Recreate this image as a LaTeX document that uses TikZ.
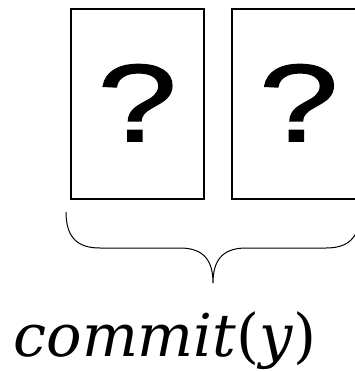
\documentclass[tikz,border=0pt]{standalone}
\usepackage{fontspec}
\setmainfont{DejaVu Serif}
\newfontfamily\qfont[FakeBold=1.2]{Liberation Sans}
\newcommand{\widequery}{\raisebox{2pt}{\scalebox{1.3}[1]{?}}}
\begin{document}
\begin{tikzpicture}[x=1pt,y=-1pt,
  card/.style={draw=black, line width=2pt, minimum width=133.5pt, minimum height=190.5pt,
    inner sep=0pt, font=\qfont\fontsize{110}{110}\selectfont},
  bracepath/.style={draw=black, line width=1pt},
  label/.style={font=\fontsize{59}{59}\selectfont\itshape, inner sep=0pt, anchor=base}]
  \useasboundingbox (0,0) rectangle (355,372);
  \clip (0,0) rectangle (355,372);
  % two hidden cards
  \node[card] (c1) at (137.25,103.75) {\widequery};
  \node[card] (c2) at (298.75,103.75) {\widequery};
  % brace under both cards
  \coordinate (bl) at (66,212);
  \coordinate (tip) at (213,283);
  \coordinate (br) at (360,212);
  \draw[bracepath] (bl) .. controls (66,240) and (80,248) .. (100,248) -- (180,248)
     .. controls (205,248) and (213,262) .. (tip)
     .. controls (213,262) and (221,248) .. (246,248) -- (326,248)
     .. controls (346,248) and (360,240) .. (br);
  % label
  \node[label] (lab) at (165,356) {commit\textup{(}y\textup{)}};
\end{tikzpicture}
\end{document}
